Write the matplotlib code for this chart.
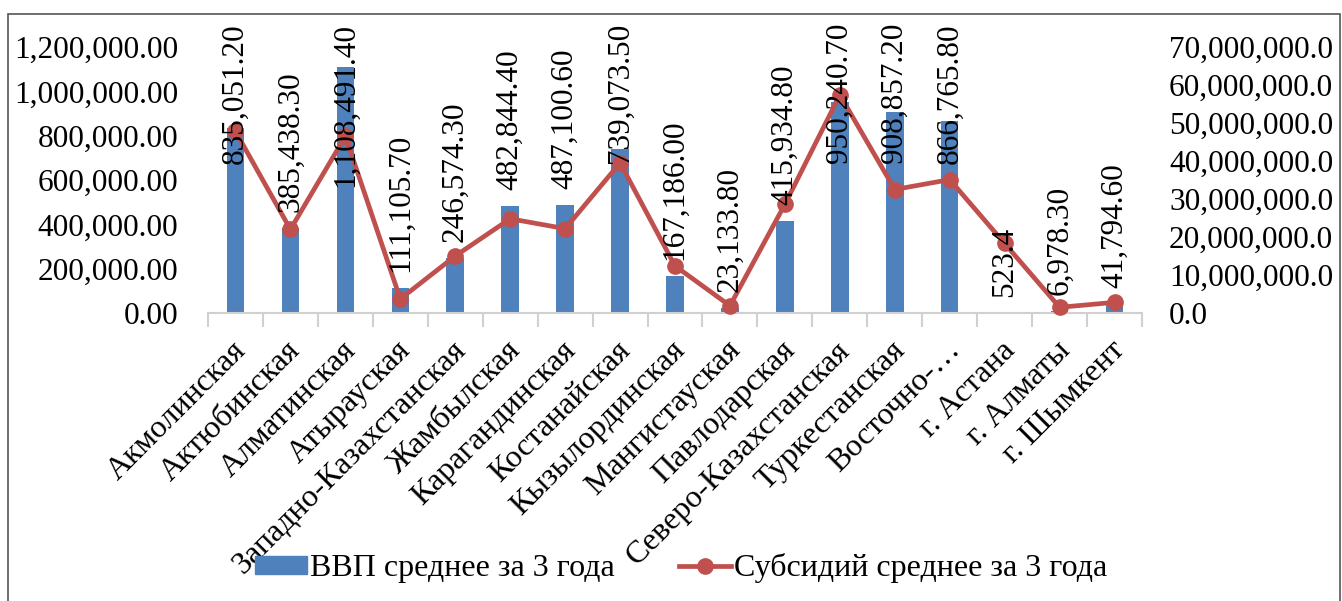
import matplotlib
matplotlib.use("Agg")
import matplotlib.pyplot as plt
from matplotlib.patches import Rectangle
from matplotlib.lines import Line2D
import numpy as np

categories = ["Акмолинская", "Актюбинская", "Алматинская", "Атырауская",
              "Западно-Казахстанская", "Жамбылская", "Карагандинская",
              "Костанайская", "Кызылординская", "Мангистауская", "Павлодарская",
              "Северо-Казахстанская", "Туркестанская", "Восточно-…",
              "г. Астана", "г. Алматы", "г. Шымкент"]
gdp = [835051.2, 385438.3, 1108491.4, 111105.7, 246574.3, 482844.4, 487100.6,
       739073.5, 167186.0, 23133.8, 415934.8, 950240.7, 908857.2, 866765.8,
       523.4, 6978.3, 41794.6]
gdp_labels = ["835,051.20", "385,438.30", "1,108,491.40", "111,105.70", "246,574.30",
              "482,844.40", "487,100.60", "739,073.50", "167,186.00", "23,133.80",
              "415,934.80", "950,240.70", "908,857.20", "866,765.80", "523.4",
              "6,978.30", "41,794.60"]
subsidy = [47.8e6, 22.0e6, 46.5e6, 3.7e6, 15.0e6, 24.8e6, 22.2e6, 39.5e6, 12.4e6,
           1.9e6, 28.6e6, 57.4e6, 32.5e6, 35.1e6, 18.3e6, 1.5e6, 2.8e6]
left_ticks = [0, 200000, 400000, 600000, 800000, 1000000, 1200000]
right_ticks = [0, 10e6, 20e6, 30e6, 40e6, 50e6, 60e6, 70e6]
legend_bar = "ВВП среднее за 3 года"
legend_line = "Субсидий среднее за 3 года"

W, H = 1342, 601
DPI = 100
FONT = "Liberation Serif"
BAR_C = "#4F81BD"
LINE_C = "#C0504D"

plt.rcParams['font.family'] = [FONT, 'DejaVu Serif']

fig = plt.figure(figsize=(W / DPI, H / DPI), dpi=DPI)
# outer border
fig.patches.append(Rectangle((8 / W, -0.01), (1340 - 8) / W, (H - 14) / H + 0.01,
                             transform=fig.transFigure, fill=False,
                             edgecolor="#555555", linewidth=1.2))

x0, x1 = 208, 1142
y_top, y_bot = 47, 313
ax = fig.add_axes([x0 / W, (H - y_bot) / H, (x1 - x0) / W, (y_bot - y_top) / H])
ax2 = ax.twinx()

n = len(categories)
x = np.arange(n)
ax.bar(x, gdp, width=0.32, color=BAR_C, zorder=2)
ax.set_xlim(-0.5, n - 0.5)
ax.set_ylim(0, 1200000)
ax2.set_ylim(0, 70e6)
ax2.plot(x, subsidy, color=LINE_C, linewidth=3.4, marker='o', markersize=11,
         zorder=3, clip_on=False)

for a in (ax, ax2):
    for s in a.spines.values():
        s.set_visible(False)

ax.spines['bottom'].set_visible(True)
ax.spines['bottom'].set_color("#d0d0d0")
ax.spines['bottom'].set_linewidth(1.5)

ax.set_yticks(left_ticks)
ax.set_yticklabels([])
ax.tick_params(axis='y', length=0)
ax2.set_yticks(right_ticks)
ax2.set_yticklabels([])
ax2.tick_params(axis='y', length=0)

# left value labels (right aligned at x=178)
for v in left_ticks:
    yd = ax.transData.transform((0, v))[1]
    fig.text(178 / W, yd / H, f"{v:,.2f}", ha='right', va='center_baseline',
             fontsize=22.5)
# right value labels (left aligned at x=1170)
for v in right_ticks:
    yd = ax2.transData.transform((0, v))[1]
    fig.text(1169 / W, yd / H, f"{v:,.1f}", ha='left', va='center_baseline',
             fontsize=22.5)

# category boundary ticks
ax.set_xticks(np.arange(-0.5, n, 1.0))
ax.set_xticklabels([])
ax.tick_params(axis='x', length=10, width=1.5, color="#d0d0d0", direction='out')

# category labels
for i, c in enumerate(categories):
    ax.annotate(c, xy=(i, 0), xycoords=('data', 'axes fraction'),
                xytext=(6, -33), textcoords='offset pixels',
                rotation=45, rotation_mode='anchor', ha='right', va='center',
                fontsize=23, annotation_clip=False)

# bar data labels
fig.canvas.draw()
renderer = fig.canvas.get_renderer()
for i, (v, lab) in enumerate(zip(gdp, gdp_labels)):
    xd, yd = ax.transData.transform((i, v))
    t = fig.text(xd / W, 0, lab, rotation=90, ha='center', va='bottom',
                 fontsize=22.5, zorder=5)
    bb = t.get_window_extent(renderer)
    h = bb.height
    bottom = yd + 16
    if bottom + h > H - 23:
        bottom = H - 23 - h
    t.set_position((xd / W, bottom / H))

# legend
handles = [Rectangle((0, 0), 1, 1, color=BAR_C),
           Line2D([0], [0], color=LINE_C, linewidth=3.4, marker='o', markersize=11)]
fig.legend(handles, [legend_bar, legend_line], loc='center',
           bbox_to_anchor=(681 / W, (H - 568) / H), ncol=2, frameon=False,
           fontsize=23, handlelength=1.63, handleheight=0.5,
           handletextpad=0.1, columnspacing=2.0)

fig.savefig("out.png", dpi=DPI)
